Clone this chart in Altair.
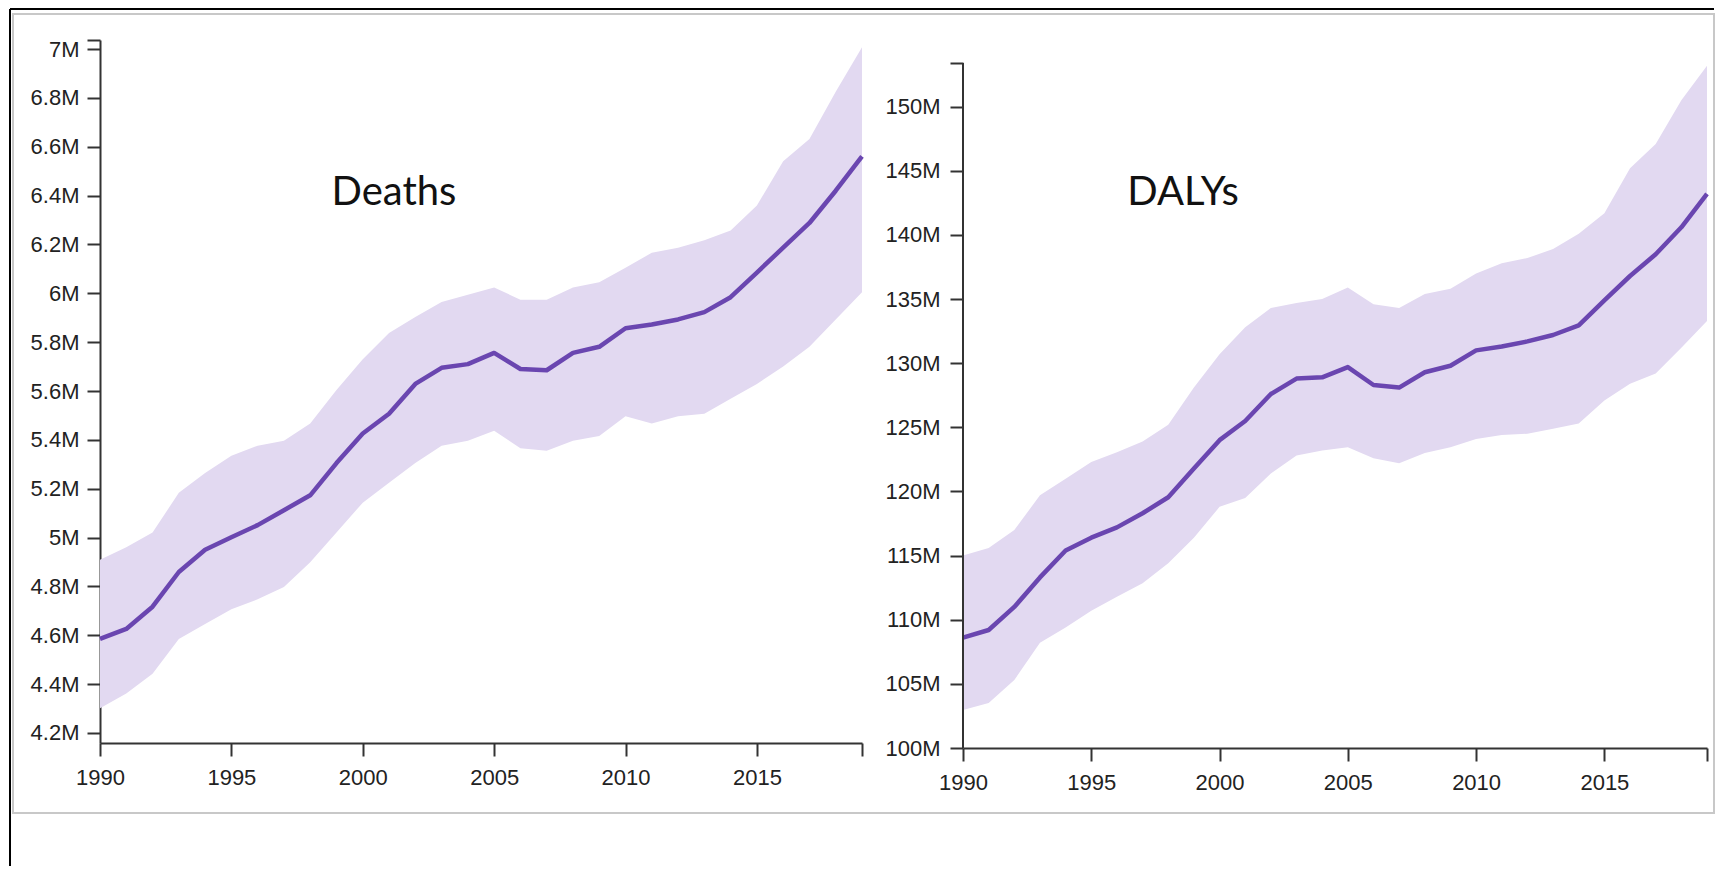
import altair as alt
import pandas as pd

years = list(range(1990, 2020))

# Deaths, millions
deaths_mean = [4.585, 4.626, 4.717, 4.859, 4.950, 5.001, 5.051, 5.112, 5.173, 5.305,
               5.426, 5.507, 5.629, 5.695, 5.710, 5.756, 5.690, 5.685, 5.756, 5.781,
               5.857, 5.872, 5.893, 5.923, 5.984, 6.085, 6.187, 6.288, 6.420, 6.561]
deaths_upper = [4.909, 4.960, 5.021, 5.183, 5.264, 5.335, 5.376, 5.396, 5.467, 5.604,
                5.730, 5.837, 5.903, 5.964, 5.994, 6.024, 5.974, 5.974, 6.024, 6.045,
                6.105, 6.166, 6.187, 6.217, 6.257, 6.359, 6.541, 6.632, 6.825, 7.007]
deaths_lower = [4.301, 4.362, 4.443, 4.585, 4.646, 4.707, 4.747, 4.798, 4.899, 5.021,
                5.143, 5.224, 5.305, 5.376, 5.396, 5.437, 5.366, 5.355, 5.396, 5.416,
                5.497, 5.467, 5.497, 5.507, 5.568, 5.629, 5.700, 5.781, 5.893, 6.004]

# DALYs, millions
dalys_mean = [108.6, 109.2, 111.0, 113.3, 115.4, 116.4, 117.2, 118.3, 119.55, 121.8,
              124.0, 125.5, 127.6, 128.8, 128.9, 129.7, 128.3, 128.1, 129.3, 129.8,
              131.0, 131.3, 131.7, 132.2, 132.95, 134.9, 136.8, 138.5, 140.6, 143.2]
dalys_upper = [115.0, 115.6, 117.0, 119.7, 121.0, 122.3, 123.05, 123.9, 125.2, 128.1,
               130.7, 132.8, 134.3, 134.7, 135.0, 135.9, 134.6, 134.3, 135.4, 135.8,
               137.0, 137.8, 138.2, 138.9, 140.1, 141.7, 145.2, 147.1, 150.5, 153.2]
dalys_lower = [102.96, 103.5, 105.3, 108.2, 109.4, 110.7, 111.8, 112.85, 114.4, 116.4,
               118.8, 119.5, 121.4, 122.8, 123.2, 123.45, 122.6, 122.2, 123.0, 123.45,
               124.1, 124.4, 124.5, 124.9, 125.3, 127.1, 128.4, 129.2, 131.2, 133.3]

x_ticks = [1990, 1995, 2000, 2005, 2010, 2015, 2019]
deaths_ticks = [4.2, 4.4, 4.6, 4.8, 5.0, 5.2, 5.4, 5.6, 5.8, 6.0, 6.2, 6.4, 6.6, 6.8, 7.0, 7.037]
dalys_ticks = [100, 105, 110, 115, 120, 125, 130, 135, 140, 145, 150, 153.4]

LINE = "#6a46b0"
BAND = "#e2d9f1"
AXIS = "#333333"

df_d = pd.DataFrame({"year": years, "mean": deaths_mean,
                     "lower": deaths_lower, "upper": deaths_upper})
df_a = pd.DataFrame({"year": years, "mean": dalys_mean,
                     "lower": dalys_lower, "upper": dalys_upper})
one = pd.DataFrame({"k": [0]})


def xenc(field="year"):
    return alt.X(f"{field}:Q",
                 scale=alt.Scale(domain=[1990, 2019], nice=False, zero=False),
                 axis=alt.Axis(values=x_ticks, format="d", title=None, grid=False,
                               labelExpr="datum.value == 2019 ? '' : datum.label",
                               labelPadding=11, labelFlush=False))


def panel(df, ydom, yticks, maxlab, label, lx, ly, draw_domain, lpad):
    yscale = alt.Scale(domain=ydom, nice=False, zero=False)
    yaxis = alt.Axis(values=yticks, title=None, grid=False, domain=draw_domain,
                     labelExpr=f"datum.value > {maxlab} ? '' : format(datum.value, '~g') + 'M'",
                     labelPadding=lpad)
    base = alt.Chart(df)
    band = base.mark_area(color=BAND, opacity=1).encode(
        x=xenc(), y=alt.Y("lower:Q", scale=yscale, axis=yaxis), y2="upper:Q")
    line = base.mark_line(color=LINE, strokeWidth=4.5, strokeJoin="round").encode(
        x=xenc(), y=alt.Y("mean:Q", scale=yscale, axis=yaxis))
    txt = alt.Chart(one).mark_text(text=label, font="Lato", fontSize=40,
                                   align="center", baseline="alphabetic",
                                   color="#111111").encode(
        x=alt.value(lx), y=alt.value(ly))
    return [band, line, txt]


left_layers = panel(df_d, [4.159, 7.037], deaths_ticks, 7.01,
                    "Deaths", 294, 165, True, 8)

# screenshot frame decorations (relative to left plot origin)
gray_box = alt.Chart(one).mark_rect(fill="transparent", stroke="#c8c8c8",
                                    strokeWidth=2).encode(
    x=alt.value(-87), x2=alt.value(1614), y=alt.value(-26), y2=alt.value(773))
black_top = alt.Chart(one).mark_rule(color="black", strokeWidth=2).encode(
    x=alt.value(-90), x2=alt.value(1614), y=alt.value(-31))
black_left = alt.Chart(one).mark_rule(color="black", strokeWidth=2).encode(
    x=alt.value(-90), y=alt.value(-31), y2=alt.value(826))

left = alt.layer(gray_box, black_top, black_left, *left_layers).properties(
    width=762, height=703)

right_layers = panel(df_a, [100, 155.2], dalys_ticks, 151,
                     "DALYs", 220, 165, False, 10)
ydom_rule = alt.Chart(one).mark_rule(color=AXIS, strokeWidth=2).encode(
    x=alt.value(0),
    y=alt.datum(100, type="quantitative"),
    y2=alt.datum(153.4))
right = alt.layer(*right_layers, ydom_rule).properties(width=744, height=708)

chart = alt.hconcat(left, right, spacing=101, bounds="flush").properties(
    padding={"left": 1, "top": 0, "right": 0, "bottom": 0}
).configure_view(stroke=None).configure_axis(
    domainColor=AXIS, domainWidth=2, tickColor=AXIS, tickWidth=2, tickSize=13,
    labelFont="Liberation Sans", labelFontSize=22, labelColor="#222222"
)

chart.save("out.html", embed_options={"renderer": "svg", "actions": False})
